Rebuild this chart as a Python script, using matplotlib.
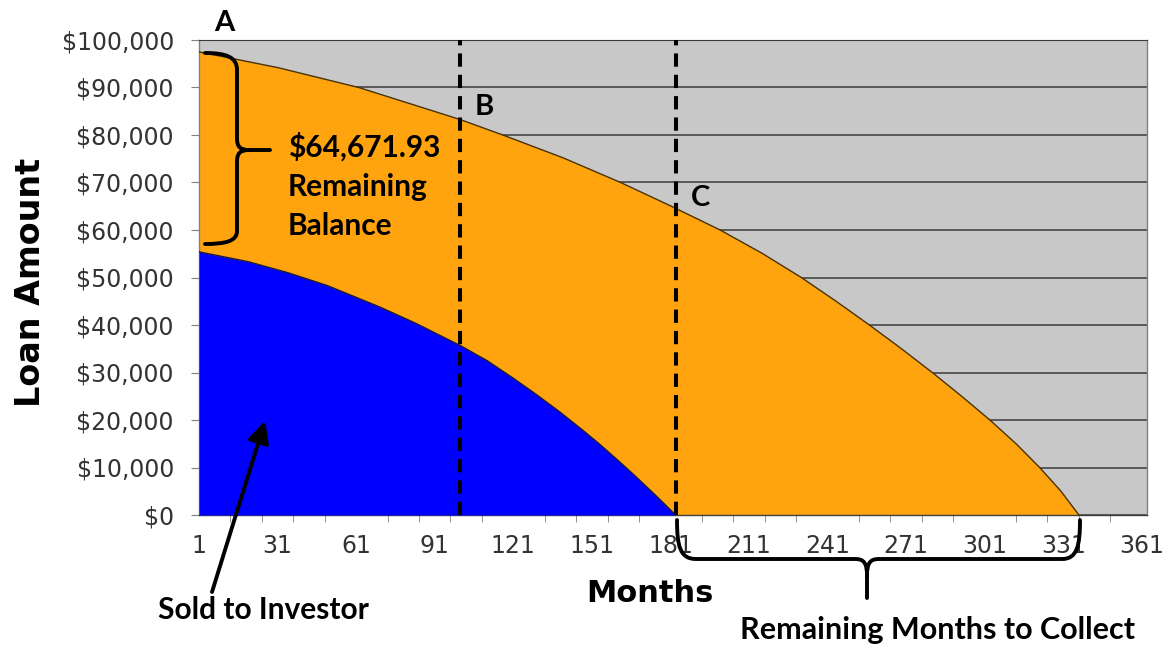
import matplotlib.pyplot as plt
from matplotlib.path import Path
from matplotlib.patches import PathPatch, FancyArrowPatch
from matplotlib.ticker import FuncFormatter

# balance of the whole loan (orange) and the part sold to the investor (blue)
balance_months = [1, 31, 62, 89, 101, 117, 140, 162, 181, 200, 216, 231, 244,
                  257, 269, 281, 292, 303, 313, 322, 330, 337]
balance = [97500, 94200, 90000, 85300, 83200, 80000, 75200, 70000, 65100, 60000,
           55100, 50000, 45100, 40000, 35100, 30000, 25100, 20000, 15000, 10000,
           5100, 0]

investor_months = [1, 20, 35, 50, 70, 84, 101, 111, 121, 130, 139, 147, 154,
                   161, 167, 172, 176, 183]
investor = [55400, 53300, 51000, 48300, 43800, 40300, 35600, 32500, 28800, 25300,
            21600, 18100, 14900, 11500, 8500, 5900, 3800, 0]

sale_month = 100.5      # line B
collect_month = 183     # line C

x_ticks = [1, 31, 61, 91, 121, 151, 181, 211, 241, 271, 301, 331, 361]
x_minor = [1, 13, 25, 37, 49, 61, 73, 85, 97, 109, 121, 133, 145, 157, 169, 181,
           193, 205, 217, 229, 241, 253, 265, 277, 289, 301, 313, 325, 337, 349, 361]
y_ticks = [0, 10000, 20000, 30000, 40000, 50000, 60000, 70000, 80000, 90000, 100000]

ORANGE = '#FFA30F'
BLUE = '#0000FF'
GRAY_BG = '#C8C8C8'
NOTE_FONT = ['Lato', 'DejaVu Sans']
AXIS_FONT = ['DejaVu Sans']

W, H = 1170, 650
fig = plt.figure(figsize=(W / 100, H / 100), dpi=100)
ax = fig.add_axes([199 / W, 1 - 515 / H, (1147 - 199) / W, (515 - 40) / H])
ax.set_facecolor(GRAY_BG)

ax.fill_between(balance_months, balance, color=ORANGE, lw=0, zorder=2)
ax.plot(balance_months, balance, color='#4a3200', lw=1.0, zorder=3)
ax.fill_between(investor_months, investor, color=BLUE, lw=0, zorder=4)
ax.plot(investor_months, investor, color='#1a1a3a', lw=1.0, zorder=5)

for m in (sale_month, collect_month):
    ax.axvline(m, color='black', lw=2.9, dashes=(3.3, 2.0), zorder=6)

ax.set_xlim(1, 363)
ax.set_ylim(0, 100000)
ax.set_xticks(x_ticks)
ax.set_xticks(x_minor, minor=True)
ax.set_yticks(y_ticks)
ax.yaxis.set_major_formatter(FuncFormatter(lambda v, p: f'${v:,.0f}'))
ax.grid(axis='y', color='#3a3a3a', lw=1.1)
ax.set_axisbelow(True)

ax.tick_params(axis='x', which='major', length=0, pad=14, labelsize=17,
               labelcolor='#333333')
ax.tick_params(axis='x', which='minor', length=5, color='#808080', direction='out')
ax.tick_params(axis='y', length=6, color='#808080', pad=12, labelsize=17,
               labelcolor='#333333')
for lab in ax.get_xticklabels() + ax.get_yticklabels():
    lab.set_family(AXIS_FONT)

for side in ('left', 'bottom', 'right'):
    ax.spines[side].set_color('#808080')
    ax.spines[side].set_linewidth(1.0)
ax.spines['top'].set_color('#3a3a3a')
ax.spines['bottom'].set_color('#404040')


def fp(px, py):
    # figure pixels measured from the top-left corner -> figure fraction
    return (px / W, 1 - py / H)


fig.text(*fp(31, 282), 'Loan Amount', rotation=90, ha='center', va='center',
         fontsize=24, fontweight='bold', family=AXIS_FONT)
fig.text(*fp(650, 593), 'Months', ha='center', va='center',
         fontsize=22, fontweight='bold', family=AXIS_FONT)

note = dict(fontweight='bold', family=NOTE_FONT, color='black')
fig.text(*fp(224, 23), 'A', ha='center', va='center', fontsize=21, **note)
fig.text(*fp(484, 107), 'B', ha='center', va='center', fontsize=21, **note)
fig.text(*fp(700, 198), 'C', ha='center', va='center', fontsize=21, **note)
fig.text(*fp(288, 157), '$64,671.93', ha='left', va='baseline', fontsize=21.5, **note)
fig.text(*fp(288, 196), 'Remaining', ha='left', va='baseline', fontsize=21.5, **note)
fig.text(*fp(288, 235), 'Balance', ha='left', va='baseline', fontsize=21.5, **note)
fig.text(*fp(263, 610), 'Sold to Investor', ha='center', va='center', fontsize=21.5, **note)
fig.text(*fp(937, 630), 'Remaining Months to Collect', ha='center', va='center',
         fontsize=22, **note)

# curly braces
M, L, C = Path.MOVETO, Path.LINETO, Path.CURVE4
left_brace = [
    ((205, 53), M), ((226, 53), C), ((237, 57), C), ((237, 70), C),
    ((237, 138), L), ((237, 147), C), ((240, 150), C), ((250, 150), C),
    ((270, 150), L),
    ((250, 150), M), ((240, 150), C), ((237, 153), C), ((237, 162), C),
    ((237, 231), L), ((237, 241), C), ((226, 244), C), ((205, 244), C),
]
bottom_brace = [
    ((677, 520), M), ((677, 546), C), ((680, 559), C), ((696, 559), C),
    ((855, 559), L), ((864, 559), C), ((867, 563), C), ((867, 576), C),
    ((867, 598), L),
    ((867, 576), M), ((867, 563), C), ((870, 559), C), ((879, 559), C),
    ((1062, 559), L), ((1077, 559), C), ((1080, 546), C), ((1080, 520), C),
]
for brace in (left_brace, bottom_brace):
    verts = [fp(*p) for p, _ in brace]
    codes = [c for _, c in brace]
    fig.add_artist(PathPatch(Path(verts, codes), transform=fig.transFigure,
                             fill=False, lw=2.8, color='black',
                             capstyle='round', joinstyle='round'))

fig.add_artist(FancyArrowPatch(fp(212, 592), fp(265, 421), transform=fig.transFigure,
                               arrowstyle='-|>', mutation_scale=32, lw=2.8,
                               color='black', shrinkA=0, shrinkB=0))

fig.savefig('out.png', dpi=100)
